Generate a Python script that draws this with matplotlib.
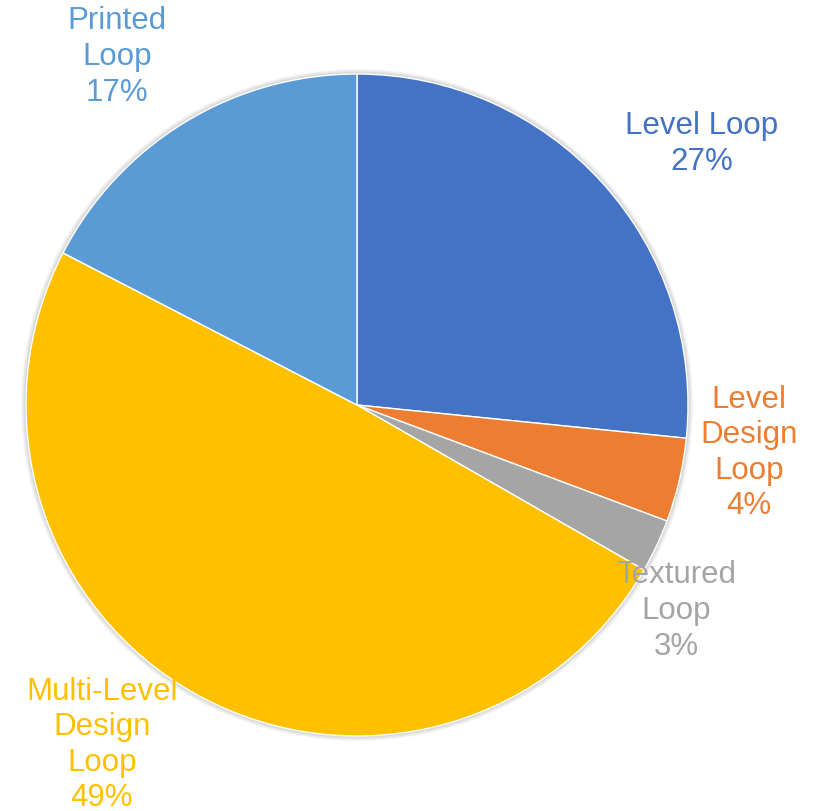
import matplotlib.pyplot as plt
from matplotlib.patches import Circle

plt.rcParams['font.family'] = ['Liberation Sans', 'DejaVu Sans']

labels = ['Level Loop', 'Level\nDesign\nLoop', 'Textured\nLoop', 'Multi-Level\nDesign\nLoop', 'Printed\nLoop']
shares = [26.6, 4.1, 2.6, 49.3, 17.4]
colors = ['#4472C4', '#ED7D31', '#A5A5A5', '#FFC000', '#5B9BD5']

# label centres in pixel space (y measured from top)
label_pos = [(702, 144), (749, 453), (676, 611), (102, 745), (117, 57)]

W, H = 820, 812
fig = plt.figure(figsize=(W / 100, H / 100), dpi=100)
ax = fig.add_axes([0, 0, 1, 1])

cx, cy, r = 357, H - 406, 331

# soft shadow around the pie
for k in range(1, 6):
    ax.add_patch(Circle((cx, cy), r + k, color='black', alpha=0.035, lw=0, zorder=0))

ax.pie(shares, colors=colors, startangle=90, counterclock=False,
       center=(cx, cy), radius=r, frame=True,
       wedgeprops=dict(edgecolor='white', linewidth=1))
ax.set_xlim(0, W)
ax.set_ylim(0, H)
ax.set_aspect('equal')
ax.axis('off')

for lab, val, col, (x, y) in zip(labels, shares, colors, label_pos):
    ax.text(x, H - y, f'{lab}\n{round(val)}%', color=col, fontsize=22.5,
            ha='center', va='center', linespacing=1.24, zorder=5)

fig.savefig('out.png', dpi=100)
